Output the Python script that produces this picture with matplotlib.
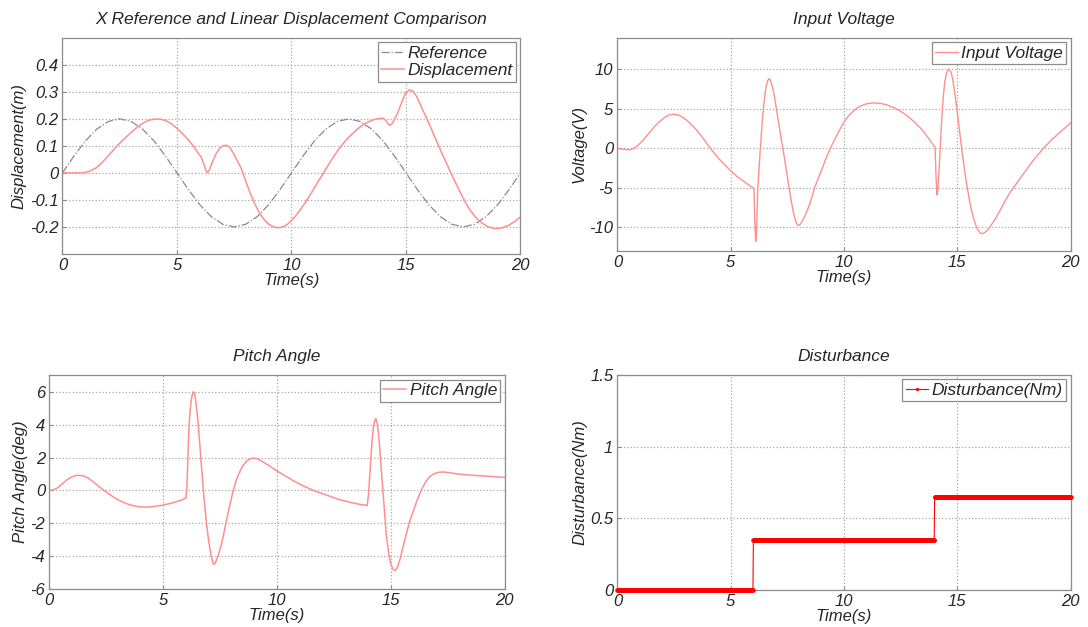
import numpy as np
import matplotlib
matplotlib.use("Agg")
import matplotlib.pyplot as plt
from matplotlib.ticker import FixedLocator, FuncFormatter

plt.rcParams['font.family'] = ['Liberation Sans', 'DejaVu Sans']
plt.rcParams['font.style'] = 'italic'
plt.rcParams['axes.unicode_minus'] = False

# ---- X reference vs. linear displacement ----
t_ref = [0.0, 0.5, 1.0, 1.5, 2.0, 2.5, 3.0, 3.5, 4.0, 4.5, 5.0, 5.5, 6.0, 6.5, 7.0,
         7.5, 8.0, 8.5, 9.0, 9.5, 10.0, 10.5, 11.0, 11.5, 12.0, 12.5, 13.0, 13.5,
         14.0, 14.5, 15.0, 15.5, 16.0, 16.5, 17.0, 17.5, 18.0, 18.5, 19.0, 19.5, 20.0]
x_ref = [0.0, 0.062, 0.118, 0.162, 0.190, 0.200, 0.190, 0.162, 0.118, 0.062, 0.0,
         -0.062, -0.118, -0.162, -0.190, -0.200, -0.190, -0.162, -0.118, -0.062, 0.0,
         0.062, 0.118, 0.162, 0.190, 0.200, 0.190, 0.162, 0.118, 0.062, 0.0,
         -0.062, -0.118, -0.162, -0.190, -0.200, -0.190, -0.162, -0.118, -0.062, 0.0]

t_disp = [0.0, 0.5, 0.9, 1.2, 1.5, 1.75, 2.0, 2.25, 2.5, 2.75, 3.0, 3.25, 3.5, 3.75,
          4.0, 4.25, 4.5, 4.75, 5.0, 5.25, 5.5, 5.75, 5.95, 6.05, 6.15, 6.25, 6.32,
          6.4, 6.55, 6.7, 6.85, 7.0, 7.15, 7.3, 7.45, 7.6, 7.8, 8.0, 8.2, 8.4, 8.6,
          8.8, 9.0, 9.2, 9.4, 9.6, 9.8, 10.0, 10.2, 10.4, 10.6, 10.8, 11.0, 11.2,
          11.4, 11.6, 11.8, 12.0, 12.2, 12.4, 12.6, 12.8, 13.0, 13.2, 13.4, 13.6,
          13.8, 14.0, 14.1, 14.2, 14.3, 14.4, 14.5, 14.6, 14.7, 14.8, 14.9, 15.0,
          15.15, 15.3, 15.45, 15.6, 15.8, 16.0, 16.2, 16.4, 16.6, 16.8, 17.0, 17.2,
          17.4, 17.6, 17.8, 18.0, 18.2, 18.4, 18.6, 18.9, 19.2, 19.5, 19.75, 20.0]
x_disp = [0.0, 0.0, 0.0, 0.006, 0.02, 0.04, 0.063, 0.087, 0.11, 0.13, 0.15, 0.168,
          0.183, 0.194, 0.199, 0.199, 0.194, 0.182, 0.165, 0.145, 0.122, 0.095, 0.07,
          0.06, 0.038, 0.012, 0.0, 0.008, 0.04, 0.07, 0.09, 0.1, 0.102, 0.095, 0.075,
          0.05, 0.018, -0.03, -0.075, -0.115, -0.148, -0.172, -0.189, -0.199, -0.203,
          -0.2, -0.192, -0.176, -0.157, -0.135, -0.11, -0.083, -0.055, -0.027, 0.0,
          0.028, 0.055, 0.08, 0.103, 0.123, 0.14, 0.156, 0.17, 0.181, 0.19, 0.197,
          0.201, 0.202, 0.196, 0.183, 0.176, 0.183, 0.198, 0.215, 0.235, 0.258, 0.28,
          0.297, 0.307, 0.302, 0.285, 0.258, 0.22, 0.183, 0.144, 0.105, 0.066, 0.03,
          -0.008, -0.042, -0.077, -0.11, -0.138, -0.16, -0.178, -0.19, -0.2, -0.206,
          -0.203, -0.193, -0.18, -0.163]

# ---- Input voltage ----
t_volt = [0.0, 0.25, 0.5, 0.7, 0.9, 1.1, 1.3, 1.5, 1.7, 1.9, 2.1, 2.3, 2.5, 2.7, 2.9,
          3.1, 3.3, 3.5, 3.8, 4.1, 4.4, 4.7, 5.0, 5.3, 5.6, 5.9, 6.0, 6.03, 6.06,
          6.1, 6.13, 6.16, 6.19, 6.25, 6.32, 6.38, 6.44, 6.5, 6.56, 6.62, 6.69, 6.76,
          6.84, 6.92, 7.0, 7.1, 7.2, 7.32, 7.45, 7.55, 7.65, 7.75, 7.85, 7.94, 8.02,
          8.1, 8.25, 8.4, 8.55, 8.7, 8.85, 9.0, 9.2, 9.4, 9.6, 9.8, 10.0, 10.2, 10.4,
          10.6, 10.8, 11.0, 11.3, 11.6, 11.9, 12.2, 12.5, 12.8, 13.1, 13.4, 13.7,
          13.97, 14.02, 14.06, 14.1, 14.14, 14.2, 14.26, 14.32, 14.38, 14.45, 14.53,
          14.63, 14.72, 14.8, 14.9, 15.0, 15.1, 15.2, 15.3, 15.4, 15.5, 15.6, 15.7,
          15.8, 15.9, 16.0, 16.1, 16.2, 16.35, 16.5, 16.7, 16.9, 17.1, 17.3, 17.5,
          17.75, 18.0, 18.25, 18.5, 18.8, 19.1, 19.4, 19.7, 20.0]
v_volt = [0.0, -0.1, -0.2, -0.05, 0.35, 0.95, 1.6, 2.3, 2.95, 3.5, 3.95, 4.25, 4.32,
          4.2, 3.9, 3.45, 2.9, 2.3, 1.2, 0.0, -1.05, -2.0, -2.85, -3.6, -4.25, -4.85,
          -5.0, -5.3, -9.0, -11.8, -11.0, -8.5, -5.5, -2.5, 0.5, 3.0, 5.0, 6.6, 7.8,
          8.5, 8.85, 8.6, 7.8, 6.7, 5.3, 3.5, 1.7, -0.3, -2.7, -4.6, -6.3, -7.9, -9.1,
          -9.7, -9.75, -9.5, -8.7, -7.7, -6.5, -5.0, -3.9, -2.8, -1.3, 0.0, 1.2, 2.3,
          3.35, 4.1, 4.7, 5.15, 5.45, 5.65, 5.75, 5.7, 5.5, 5.15, 4.7, 4.1, 3.35, 2.5,
          1.4, 0.3, 0.15, -3.5, -5.9, -5.3, -2.5, 0.8, 4.0, 6.5, 8.5, 9.6, 10.05, 9.7,
          8.7, 6.8, 4.6, 2.2, -0.2, -2.3, -4.3, -6.0, -7.5, -8.7, -9.6, -10.3, -10.7,
          -10.8, -10.7, -10.3, -9.7, -8.8, -7.8, -6.7, -5.7, -4.9, -3.9, -2.9, -1.9,
          -1.0, 0.0, 0.9, 1.7, 2.45, 3.2]

# ---- Pitch angle ----
t_pitch = [0.0, 0.15, 0.35, 0.55, 0.75, 0.95, 1.15, 1.3, 1.5, 1.7, 1.9, 2.1, 2.3,
           2.5, 2.7, 2.9, 3.1, 3.3, 3.5, 3.7, 3.9, 4.15, 4.4, 4.7, 5.0, 5.3, 5.6,
           5.85, 6.0, 6.04, 6.08, 6.12, 6.17, 6.22, 6.28, 6.33, 6.39, 6.45, 6.52,
           6.6, 6.7, 6.8, 6.9, 7.0, 7.1, 7.2, 7.27, 7.35, 7.45, 7.55, 7.65, 7.75,
           7.85, 7.95, 8.05, 8.2, 8.35, 8.5, 8.7, 8.93, 9.15, 9.4, 9.67, 10.0, 10.4,
           10.8, 11.2, 11.7, 12.2, 12.7, 13.2, 13.6, 13.96, 14.02, 14.07, 14.12,
           14.18, 14.23, 14.29, 14.34, 14.4, 14.46, 14.52, 14.58, 14.65, 14.72, 14.8,
           14.9, 15.0, 15.1, 15.18, 15.28, 15.4, 15.52, 15.65, 15.8, 15.95, 16.1,
           16.25, 16.4, 16.55, 16.7, 16.9, 17.1, 17.3, 17.6, 17.9, 18.3, 18.8, 19.4,
           20.0]
a_pitch = [0.0, 0.02, 0.15, 0.38, 0.62, 0.8, 0.9, 0.92, 0.88, 0.75, 0.55, 0.32, 0.1,
           -0.1, -0.3, -0.48, -0.63, -0.76, -0.86, -0.94, -0.99, -1.02, -1.01, -0.96,
           -0.89, -0.8, -0.68, -0.56, -0.47, 0.2, 1.8, 3.5, 4.7, 5.4, 5.85, 6.0, 5.8,
           5.2, 4.3, 2.9, 1.1, -0.6, -2.0, -3.1, -3.95, -4.5, -4.45, -4.2, -3.8,
           -3.3, -2.7, -2.0, -1.35, -0.75, -0.15, 0.6, 1.1, 1.5, 1.83, 1.97, 1.92,
           1.72, 1.48, 1.18, 0.85, 0.52, 0.24, -0.06, -0.3, -0.55, -0.72, -0.84,
           -0.92, -0.2, 0.9, 2.0, 3.1, 3.8, 4.25, 4.37, 4.1, 3.4, 2.4, 1.2, 0.0, -1.3,
           -2.7, -3.8, -4.5, -4.82, -4.88, -4.7, -4.2, -3.5, -2.8, -2.0, -1.4, -0.8,
           -0.25, 0.2, 0.55, 0.83, 1.02, 1.1, 1.12, 1.07, 1.0, 0.95, 0.9, 0.85, 0.79]

# ---- Disturbance torque steps ----
dist_switch_times = [6.0, 14.0]
dist_levels = [0.0, 0.35, 0.65]

LIGHT_RED = '#ff8f8f'
TEXT = '#262626'
FS = 12
FS_BIG = 12.5

fig = plt.figure(figsize=(10.88, 6.27), dpi=100)


def style_axes(ax, title, ylabel, yticks, ylim):
    ax.set_xlim(0, 20)
    ax.set_ylim(*ylim)
    ax.xaxis.set_major_locator(FixedLocator([0, 5, 10, 15, 20]))
    ax.yaxis.set_major_locator(FixedLocator(yticks))
    ax.yaxis.set_major_formatter(FuncFormatter(lambda v, p: '%g' % round(v, 3)))
    ax.grid(True, linestyle=':', color='#a8a8a8', linewidth=0.9)
    ax.set_axisbelow(True)
    for s in ax.spines.values():
        s.set_color('#8c8c8c')
        s.set_linewidth(0.9)
    ax.tick_params(direction='in', length=3, color='#8c8c8c', labelsize=FS,
                   labelcolor=TEXT, pad=3)
    ax.set_title(title, fontsize=FS_BIG, color=TEXT, pad=10, style='italic')
    ax.set_xlabel('Time(s)', fontsize=FS, color=TEXT, labelpad=0, style='italic')
    ax.set_ylabel(ylabel, fontsize=FS, color=TEXT, labelpad=2, style='italic')


def add_legend(ax):
    leg = ax.legend(loc='upper right', fontsize=FS_BIG, handlelength=1.3,
                    handletextpad=0.2, borderaxespad=0.25, borderpad=0.2,
                    labelspacing=0.15, fancybox=False, framealpha=1.0,
                    edgecolor='#8c8c8c', markerscale=0.6)
    leg.get_frame().set_linewidth(0.9)
    for txt in leg.get_texts():
        txt.set_color(TEXT)


# Top-left: reference vs. displacement
ax1 = fig.add_axes([0.0574, 0.5949, 0.4210, 0.3450])
ax1.plot(t_ref, x_ref, linestyle='-.', color='#8a8a8a', linewidth=0.9,
         label='Reference')
ax1.plot(t_disp, x_disp, color=LIGHT_RED, linewidth=1.1, label='Displacement')
style_axes(ax1, 'X Reference and Linear Displacement Comparison',
           'Displacement(m)', [-0.2, -0.1, 0, 0.1, 0.2, 0.3, 0.4], (-0.3, 0.5))
add_legend(ax1)

# Top-right: input voltage
ax2 = fig.add_axes([0.5675, 0.5997, 0.4165, 0.3400])
ax2.plot(t_volt, v_volt, color=LIGHT_RED, linewidth=1.0, label='Input Voltage')
style_axes(ax2, 'Input Voltage', 'Voltage(V)', [-10, -5, 0, 5, 10], (-13, 14))
add_legend(ax2)

# Bottom-left: pitch angle
ax3 = fig.add_axes([0.0454, 0.0606, 0.4185, 0.3408])
ax3.plot(t_pitch, a_pitch, color=LIGHT_RED, linewidth=1.1, label='Pitch Angle')
style_axes(ax3, 'Pitch Angle', 'Pitch Angle(deg)', [-6, -4, -2, 0, 2, 4, 6], (-6, 7))
add_legend(ax3)

# Bottom-right: disturbance steps, sampled densely with dot markers
ax4 = fig.add_axes([0.5675, 0.0595, 0.4165, 0.3424])
t_d = np.arange(0.0, 20.0001, 0.02)
d_d = np.asarray(dist_levels)[np.searchsorted(dist_switch_times, t_d, side='right')]
ax4.plot(t_d, d_d, color='#ff0000', linewidth=0.8, marker='.', markersize=4.5,
         label='Disturbance(Nm)', clip_on=False, zorder=3)
style_axes(ax4, 'Disturbance', 'Disturbance(Nm)', [0, 0.5, 1, 1.5], (0, 1.5))
add_legend(ax4)

fig.savefig('out.png', dpi=100)
